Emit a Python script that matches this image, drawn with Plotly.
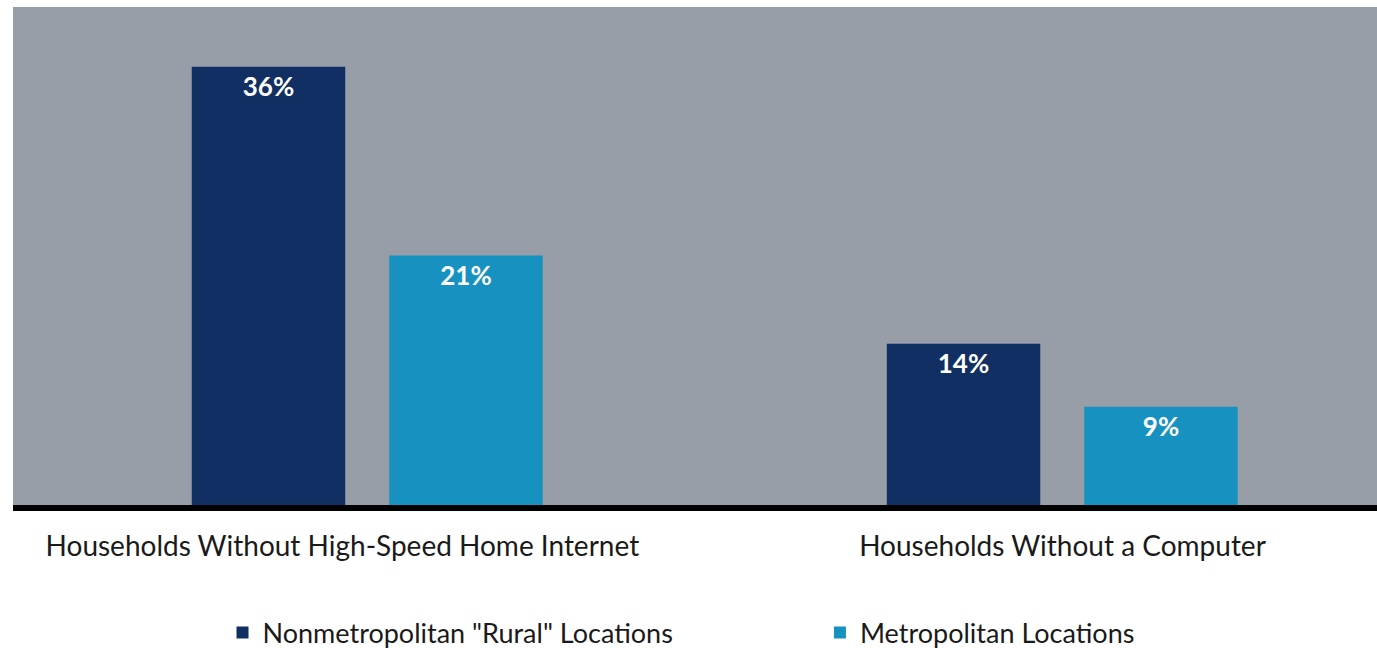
import plotly.graph_objects as go

categories = ["Households Without High-Speed Home Internet", "Households Without a Computer"]
series_names = ['Nonmetropolitan "Rural" Locations', "Metropolitan Locations"]
rural_values = [36, 14]
metro_values = [21, 9]
colors = ["#112f62", "#1792c0"]

x_pos = list(range(len(categories)))
tick_text = [categories[0] + "\u00a0" * 7, categories[1]]

fig = go.Figure()
for name, vals, col, off, lg in [
    (series_names[0], rural_values, colors[0], -0.2528, "legend"),
    (series_names[1], metro_values, colors[1], 0.0313, "legend2"),
]:
    fig.add_trace(go.Bar(
        x=x_pos, y=vals, name=name, legend=lg,
        marker=dict(color=col, line=dict(width=0)),
        width=0.2208, offset=off,
        text=[f"{v}%" for v in vals],
        textposition="inside", insidetextanchor="end",
        textfont=dict(family="Lato", size=26, color="white", weight="bold"),
        textangle=0,
        hoverinfo="skip",
    ))

legend_common = dict(
    orientation="h", xanchor="left", y=-0.257, yanchor="middle",
    font=dict(size=27, color="#1a1a1a"), bgcolor="rgba(0,0,0,0)",
)

fig.update_layout(
    width=1377, height=648,
    margin=dict(l=13, r=0, t=7, b=143, autoexpand=False),
    paper_bgcolor="white",
    plot_bgcolor="#979ea8",
    barmode="overlay",
    font=dict(family="Lato", color="#1a1a1a"),
    showlegend=True,
    legend=dict(x=0.1536, **legend_common),
    legend2=dict(x=0.5916, **legend_common),
    xaxis=dict(
        range=[-0.510, 1.4525], tickmode="array", tickvals=x_pos, ticktext=tick_text,
        showline=True, linecolor="black", linewidth=6, showgrid=False, zeroline=False,
        ticks="", tickfont=dict(size=28, color="#1a1a1a"), ticklabelstandoff=11,
        fixedrange=True,
    ),
    yaxis=dict(
        range=[1.19, 40.75], visible=False, showgrid=False, zeroline=False, fixedrange=True,
    ),
)

fig.write_html(
    "out.html",
    config={"displayModeBar": False},
    post_script="document.body.style.margin='0px';",
)
